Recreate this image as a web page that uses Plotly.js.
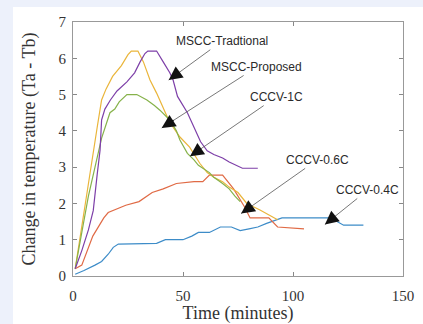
<!DOCTYPE html>
<html>
<head>
<meta charset="utf-8">
<script src="https://cdn.plot.ly/plotly-3.0.1.min.js"></script>
<style>
html,body{margin:0;padding:0;background:#edf1fb;width:423px;height:324px;overflow:hidden;}
#chart{position:absolute;left:13px;top:7px;width:410px;height:317px;background:#fff;}
</style>
</head>
<body>
<div id="chart"></div>
<script>
// CCCV-0.4C (blue)
const blueX = [1, 5, 10, 13, 16, 18.3, 20.6, 30, 38, 42, 50, 54, 57, 62, 67, 72, 76, 80, 84, 88, 95, 116, 120, 123, 132];
const blueY = [0.05, 0.15, 0.3, 0.4, 0.6, 0.79, 0.88, 0.9, 0.9, 1.0, 1.0, 1.1, 1.2, 1.2, 1.35, 1.35, 1.25, 1.3, 1.35, 1.45, 1.6, 1.6, 1.5, 1.4, 1.4];
// CCCV-0.6C (orange)
const redX = [1, 4, 9, 14, 16, 20, 24, 30, 36, 41, 47, 55, 59, 62, 68, 73, 78, 80.5, 89, 93, 105];
const redY = [0.2, 0.3, 1.1, 1.6, 1.75, 1.85, 1.95, 2.05, 2.3, 2.4, 2.55, 2.6, 2.6, 2.78, 2.78, 2.4, 1.9, 1.6, 1.6, 1.35, 1.3];
// MSCC-Proposed (yellow)
const yellowX = [1, 3, 6, 9, 11, 13, 15, 18, 22, 25, 26.5, 29.5, 32, 35, 38, 42.7, 45.5, 48.6, 53, 57.7, 61, 64, 68, 71, 75, 79, 85, 93];
const yellowY = [0.2, 1.0, 2.2, 3.4, 4.1, 4.85, 5.15, 5.5, 5.8, 6.1, 6.2, 6.2, 5.9, 5.4, 5.04, 4.4, 4.1, 3.83, 3.55, 3.1, 2.85, 2.72, 2.6, 2.45, 2.3, 2.0, 1.82, 1.55];
// CCCV-1C (green)
const greenX = [1, 4, 7, 10, 13, 16.8, 19, 21, 24.5, 29, 33.6, 37, 39.5, 44, 47, 48.6, 52, 55, 57, 62, 64, 68, 71, 73.6, 76];
const greenY = [0.2, 1.2, 2.2, 3.0, 3.8, 4.5, 4.6, 4.8, 5.0, 5.0, 4.85, 4.7, 4.57, 4.3, 4.0, 3.75, 3.38, 3.2, 3.05, 2.85, 2.72, 2.55, 2.4, 2.2, 2.05];
// MSCC-Traditional (purple)
const purpleX = [1, 4, 7, 9.2, 11, 12.3, 13, 14.5, 17, 20, 24.5, 28, 30.5, 32.7, 34, 38, 41, 44, 45.5, 47.5, 52, 55, 58, 61, 64, 68, 71, 77, 84];
const purpleY = [0.2, 0.7, 1.27, 1.8, 2.8, 3.47, 4.3, 4.6, 4.85, 5.1, 5.35, 5.6, 5.9, 6.13, 6.2, 6.2, 5.9, 5.6, 5.4, 4.95, 4.5, 4.1, 3.7, 3.45, 3.35, 3.25, 3.14, 2.97, 2.97];

const labels = ["MSCC-Tradtional", "MSCC-Proposed", "CCCV-1C", "CCCV-0.6C", "CCCV-0.4C"];
const xTicks = [0, 50, 100, 150];
const yTicks = [0, 1, 2, 3, 4, 5, 6, 7];

const SERIF = '"Liberation Serif", "Times New Roman", serif';
const SANS = '"Liberation Sans", Arial, sans-serif';

function line(x, y, color) {
  return {x: x, y: y, type: 'scatter', mode: 'lines', line: {color: color, width: 1.2}, hoverinfo: 'skip'};
}
const traces = [
  line(blueX, blueY, '#3d8cc8'),
  line(redX, redY, '#e06a45'),
  line(yellowX, yellowY, '#eab53a'),
  line(greenX, greenY, '#86b24a'),
  line(purpleX, purpleY, '#7d3fa8')
];

// annotation geometry: [label index, tip x, tip y, text x, text y]
const ann = [
  [0, 43.5, 5.4, 67.7, 6.47],
  [1, 40.3, 4.08, 83.6, 5.76],
  [2, 53.2, 3.3, 92.3, 4.93],
  [3, 76.4, 1.72, 111, 3.2],
  [4, 114.5, 1.42, 134, 2.37]
];
const annotations = [];
ann.forEach(a => {
  // thin grey leader line from the label
  annotations.push({
    x: a[1], y: a[2], xref: 'x', yref: 'y',
    ax: a[3], ay: a[4], axref: 'x', ayref: 'y',
    text: labels[a[0]], showarrow: true,
    arrowhead: 0, arrowwidth: 0.8, arrowcolor: '#555',
    font: {family: SANS, size: 12, color: '#2a2a2a'}
  });
  // black arrow head at the tip
  annotations.push({
    x: a[1], y: a[2], xref: 'x', yref: 'y',
    ax: a[1] + (a[3] - a[1]) * 0.14, ay: a[2] + (a[4] - a[2]) * 0.14, axref: 'x', ayref: 'y',
    text: '', showarrow: true,
    arrowhead: 2, arrowsize: 1.7, arrowwidth: 1.6, arrowcolor: '#111'
  });
});

const layout = {
  width: 410, height: 317,
  margin: {l: 60, r: 20, t: 15, b: 48},
  paper_bgcolor: '#ffffff', plot_bgcolor: '#ffffff',
  showlegend: false,
  font: {family: SERIF, color: '#333'},
  xaxis: {
    range: [0, 150], tickvals: xTicks, ticktext: xTicks.map(String),
    ticks: 'inside', ticklen: 4, tickcolor: '#888', mirror: 'ticks',
    showline: true, linecolor: '#999', linewidth: 1, showgrid: false, zeroline: false,
    tickfont: {family: SERIF, size: 15, color: '#333', weight: 'normal'},
    ticklabelstandoff: 6,
    title: {text: 'Time (minutes)', font: {family: SERIF, size: 18, color: '#333', weight: 'normal'}, standoff: 4}
  },
  yaxis: {
    range: [0, 7], tickvals: yTicks, ticktext: yTicks.map(String),
    ticks: 'inside', ticklen: 4, tickcolor: '#888', mirror: 'ticks',
    showline: true, linecolor: '#999', linewidth: 1, showgrid: false, zeroline: false,
    tickfont: {family: SERIF, size: 15, color: '#333', weight: 'normal'},
    ticklabelstandoff: 3,
    title: {text: 'Change in temperature (Ta - Tb)', font: {family: SERIF, size: 18, color: '#333', weight: 'normal'}, standoff: 18}
  },
  annotations: annotations
};

Plotly.newPlot('chart', traces, layout, {displayModeBar: false, staticPlot: true});
</script>
</body>
</html>
